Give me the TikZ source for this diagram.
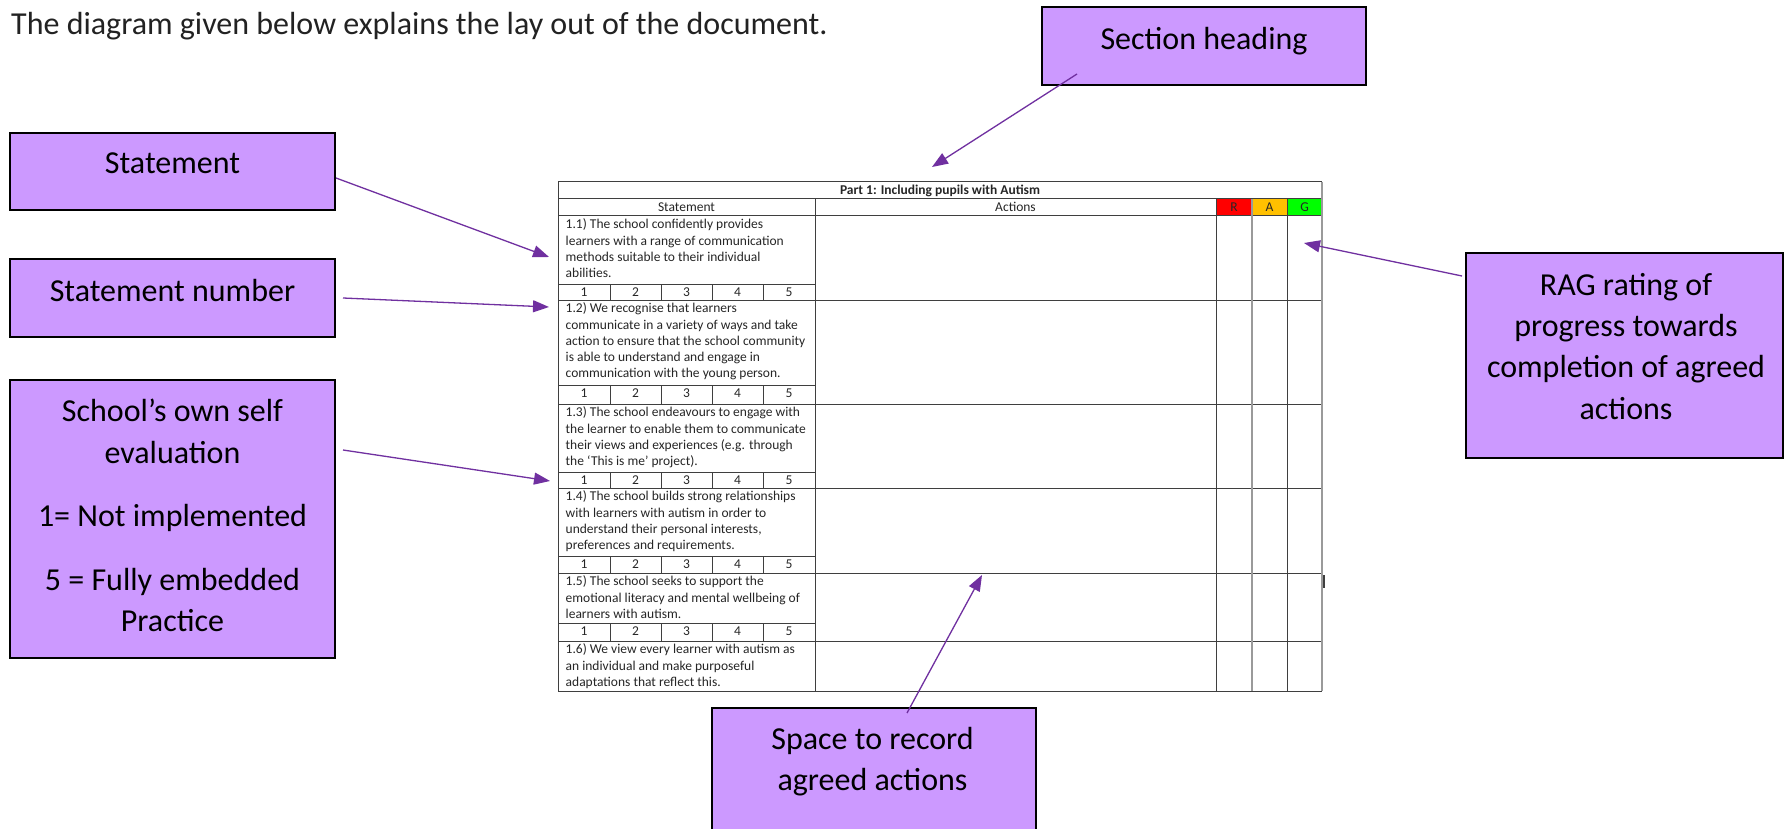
\documentclass[tikz,border=0pt]{standalone}
\usepackage{fontspec}
\setmainfont{Carlito}
\usetikzlibrary{arrows.meta}
\definecolor{callfill}{HTML}{CC99FF}
\definecolor{arrowc}{HTML}{7030A0}
\definecolor{gridc}{HTML}{3F3F3F}
\definecolor{gridl}{HTML}{9A9A9A}
\definecolor{ragR}{HTML}{FF0000}
\definecolor{ragA}{HTML}{FFC000}
\definecolor{ragG}{HTML}{00FF00}
\definecolor{tabtext}{HTML}{262626}
\definecolor{introtext}{HTML}{222222}
\begin{document}
\begin{tikzpicture}[x=1pt,y=-1pt,
 callbox/.style={draw=black, line width=2.7pt, fill=callfill, inner sep=0pt, rectangle},
 calltext/.style={inner sep=0pt, font=\fontsize{32}{41.3}\selectfont, align=center, text=black},
 pointer/.style={draw=arrowc, line width=1.3pt, -{Triangle[length=16pt,width=12pt]}},
 tabline/.style={draw=gridc, line width=1pt},
 tabgray/.style={draw=gridl, line width=1.6pt},
 stext/.style={inner sep=0pt, anchor=north west, align=left, font=\fontsize{13.5}{16.3}\selectfont, text=tabtext},
 numtext/.style={inner sep=0pt, anchor=base, font=\fontsize{13.5}{16.3}\selectfont, text=tabtext},
]
\clip (0,0) rectangle (1785,829);
\fill[white] (0,0) rectangle (1785,829);

% intro sentence
\node[anchor=base west, inner sep=0pt, font=\fontsize{32}{38}\selectfont, text=introtext] (intro) at (11,35)
  {The diagram given below explains the lay out of the document.};

% ---------------- table ----------------
\fill[ragR] (1216,199) rectangle (1252,216);
\fill[ragA] (1252,199) rectangle (1287,216);
\fill[ragG] (1287,199) rectangle (1322,216);

\draw[tabline] (558,182) -- (1322,182);
\draw[tabline] (558,199) -- (1322,199);
\draw[tabline] (558,216) -- (1322,216);
\foreach \yy in {300,404,488,573,641,691}
  \draw[tabline] (558,\yy) -- (1322,\yy);
\foreach \yy in {284,385,472,556,623}
  \draw[tabline] (558,\yy) -- (815,\yy);
\foreach \ta/\tb in {284/300,385/404,472/488,556/573,623/641}
  \foreach \xx in {610,661,712,763}
    \draw[tabline] (\xx,\ta) -- (\xx,\tb);
\draw[tabline] (558,182) -- (558,691);
\draw[tabline] (815,199) -- (815,691);
\draw[tabline] (1216,199) -- (1216,691);
\draw[tabline] (1287,199) -- (1287,691);
\draw[tabgray] (1252,199) -- (1252,691);
\draw[tabgray] (1322,182) -- (1322,691);
\draw[draw=gridc, line width=2pt] (1323.5,575) -- (1323.5,588);

\node[numtext, font=\fontsize{13.5}{16.3}\selectfont\bfseries] (title) at (940,194.5)
  {Part 1: Including pupils with Autism};
\node[numtext] (hstmt) at (686.5,211.7) {Statement};
\node[numtext] (hact) at (1015.5,211.7) {Actions};
\node[numtext] (hR) at (1234,211.7) {R};
\node[numtext] (hA) at (1269.5,211.7) {A};
\node[numtext] (hG) at (1304.5,211.7) {G};

\node[stext] (s1) at (565.5,217.1) {\strut 1.1) The school confidently provides\\\strut learners with a range of communication\\\strut methods suitable to their individual\\\strut abilities.};
\node[stext] (s2) at (565.5,301.1) {\strut 1.2) We recognise that learners\\\strut communicate in a variety of ways and take\\\strut action to ensure that the school community\\\strut is able to understand and engage in\\\strut communication with the young person.};
\node[stext] (s3) at (565.5,405.1) {\strut 1.3) The school endeavours to engage with\\\strut the learner to enable them to communicate\\\strut their views and experiences (e.g. through\\\strut the ‘This is me’ project).};
\node[stext] (s4) at (565.5,489.1) {\strut 1.4) The school builds strong relationships\\\strut with learners with autism in order to\\\strut understand their personal interests,\\\strut preferences and requirements.};
\node[stext] (s5) at (565.5,574.1) {\strut 1.5) The school seeks to support the\\\strut emotional literacy and mental wellbeing of\\\strut learners with autism.};
\node[stext] (s6) at (565.5,642.1) {\strut 1.6) We view every learner with autism as\\\strut an individual and make purposeful\\\strut adaptations that reflect this.};

\foreach \rr/\ta in {1/284,2/385,3/472,4/556,5/623}
  \foreach \cc/\xx in {1/584,2/635.5,3/686.5,4/737.5,5/789}
    \node[numtext] (n\rr-\cc) at (\xx,\ta+12) {\cc};

% ---------------- callout boxes ----------------
\node[callbox, minimum width=324pt, minimum height=78pt] (head) at (1204,46) {};
\node[callbox, minimum width=325pt, minimum height=77pt] (stmt) at (172.5,171.5) {};
\node[callbox, minimum width=325pt, minimum height=78pt] (stnum) at (172.5,298) {};
\node[callbox, minimum width=325pt, minimum height=278pt] (self) at (172.5,519) {};
\node[callbox, minimum width=317pt, minimum height=205pt] (rag) at (1624.5,355.5) {};
\node[callbox, minimum width=324pt, minimum height=132pt] (space) at (874,774) {};

% ---------------- pointers ----------------
\coordinate (headA) at (1077,74);   \coordinate (headTip) at (932,167);
\coordinate (stmtA) at (336,178);   \coordinate (stmtTip) at (549,257);
\coordinate (stnumA) at (343,298);  \coordinate (stnumTip) at (549,307);
\coordinate (selfA) at (343,450);   \coordinate (selfTip) at (550,481);
\coordinate (ragA) at (1462,276);   \coordinate (ragTip) at (1304,243);
\coordinate (spaceA) at (907,713);  \coordinate (spaceTip) at (982,575);
\draw[pointer] (headA) -- (headTip);
\draw[pointer] (stmtA) -- (stmtTip);
\draw[pointer] (stnumA) -- (stnumTip);
\draw[pointer] (selfA) -- (selfTip);
\draw[pointer] (ragA) -- (ragTip);
\draw[pointer] (spaceA) -- (spaceTip);

% ---------------- callout texts ----------------
\node[calltext, anchor=base] (headT) at (1204,50) {Section heading};
\node[calltext, anchor=base] (stmtT) at (172.5,174) {Statement};
\node[calltext, anchor=base] (stnumT) at (172.5,301.7) {Statement number};
\node[calltext, anchor=north] (selfT) at (172.5,392.8)
  {\strut School’s own self\\\strut evaluation\\[22.2pt]\strut 1= Not implemented\\[22.2pt]\strut 5 = Fully embedded\\\strut Practice};
\node[calltext, anchor=north] (ragT) at (1626,266.1)
  {\strut RAG rating of\\\strut progress towards\\\strut completion of agreed\\\strut actions};
\node[calltext, anchor=north] (spaceT) at (872.5,720.4)
  {\strut Space to record\\\strut agreed actions};
\end{tikzpicture}
\end{document}
